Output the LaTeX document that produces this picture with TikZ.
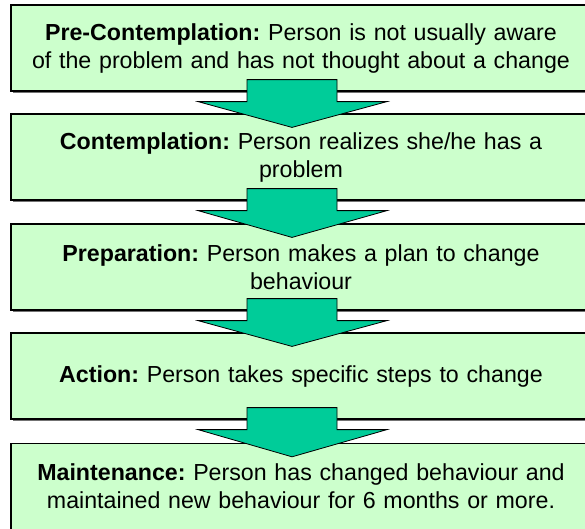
\documentclass[tikz,border=0pt]{standalone}
\usepackage{fontspec}
\setmainfont{Liberation Sans}
\usetikzlibrary{calc,shadows}
\definecolor{boxgreen}{HTML}{CCFFCC}
\definecolor{arrowgreen}{HTML}{00CC99}
\tikzset{
  stageframe/.style={draw=black, line width=1.2pt, fill=boxgreen,
    minimum width=580pt, minimum height=86pt, inner sep=0pt,
    drop shadow={shadow xshift=1.8pt, shadow yshift=-1.8pt, fill=black!55, opacity=1}},
  stagetext/.style={minimum width=580pt, minimum height=86pt, inner sep=0pt,
    align=center, text width=578pt,
    font=\fontsize{23.2}{28}\selectfont\frenchspacing},
  stagebox/.style={stageframe, stagetext},
  blockarr/.style={draw=black, line width=0.8pt, fill=arrowgreen, line join=miter}
}
\begin{document}
\begin{tikzpicture}[x=1pt,y=-1pt]
\useasboundingbox[fill=white] (0,0) rectangle (585,528);
\node[stagebox] (b1) at (301,48) {\textbf{Pre-Contemplation:} Person is not usually aware\\of the problem and has not thought about a change};
\node[stagebox] (b2) at (301,157) {\textbf{Contemplation:} Person realizes she/he has a\\problem};
\node[stagebox] (b3) at (301,267) {\textbf{Preparation:} Person makes a plan to change\\behaviour};
\node[stagebox] (b4) at (301,376) {\textbf{Action:} Person takes specific steps to change};
\node[stageframe, minimum height=100pt, anchor=north] (b5frame) at (301,443) {};
\node[stagetext] (b5) at (301,486) {\textbf{Maintenance:} Person has changed behaviour and\\maintained new behaviour for 6 months or more.};
\foreach \a/\b in {b1/b2,b2/b3,b3/b4,b4/b5}{
  \draw[blockarr] ($(\a.south)+(-54,-12)$) -- ($(\a.south)+(36,-12)$)
    -- ($(\a.south)+(36,10)$) -- ($(\a.south)+(86,10)$)
    -- ($(\b.north)+(-9,14)$)
    -- ($(\a.south)+(-103,10)$) -- ($(\a.south)+(-54,10)$) -- cycle;
}
\end{tikzpicture}
\end{document}
